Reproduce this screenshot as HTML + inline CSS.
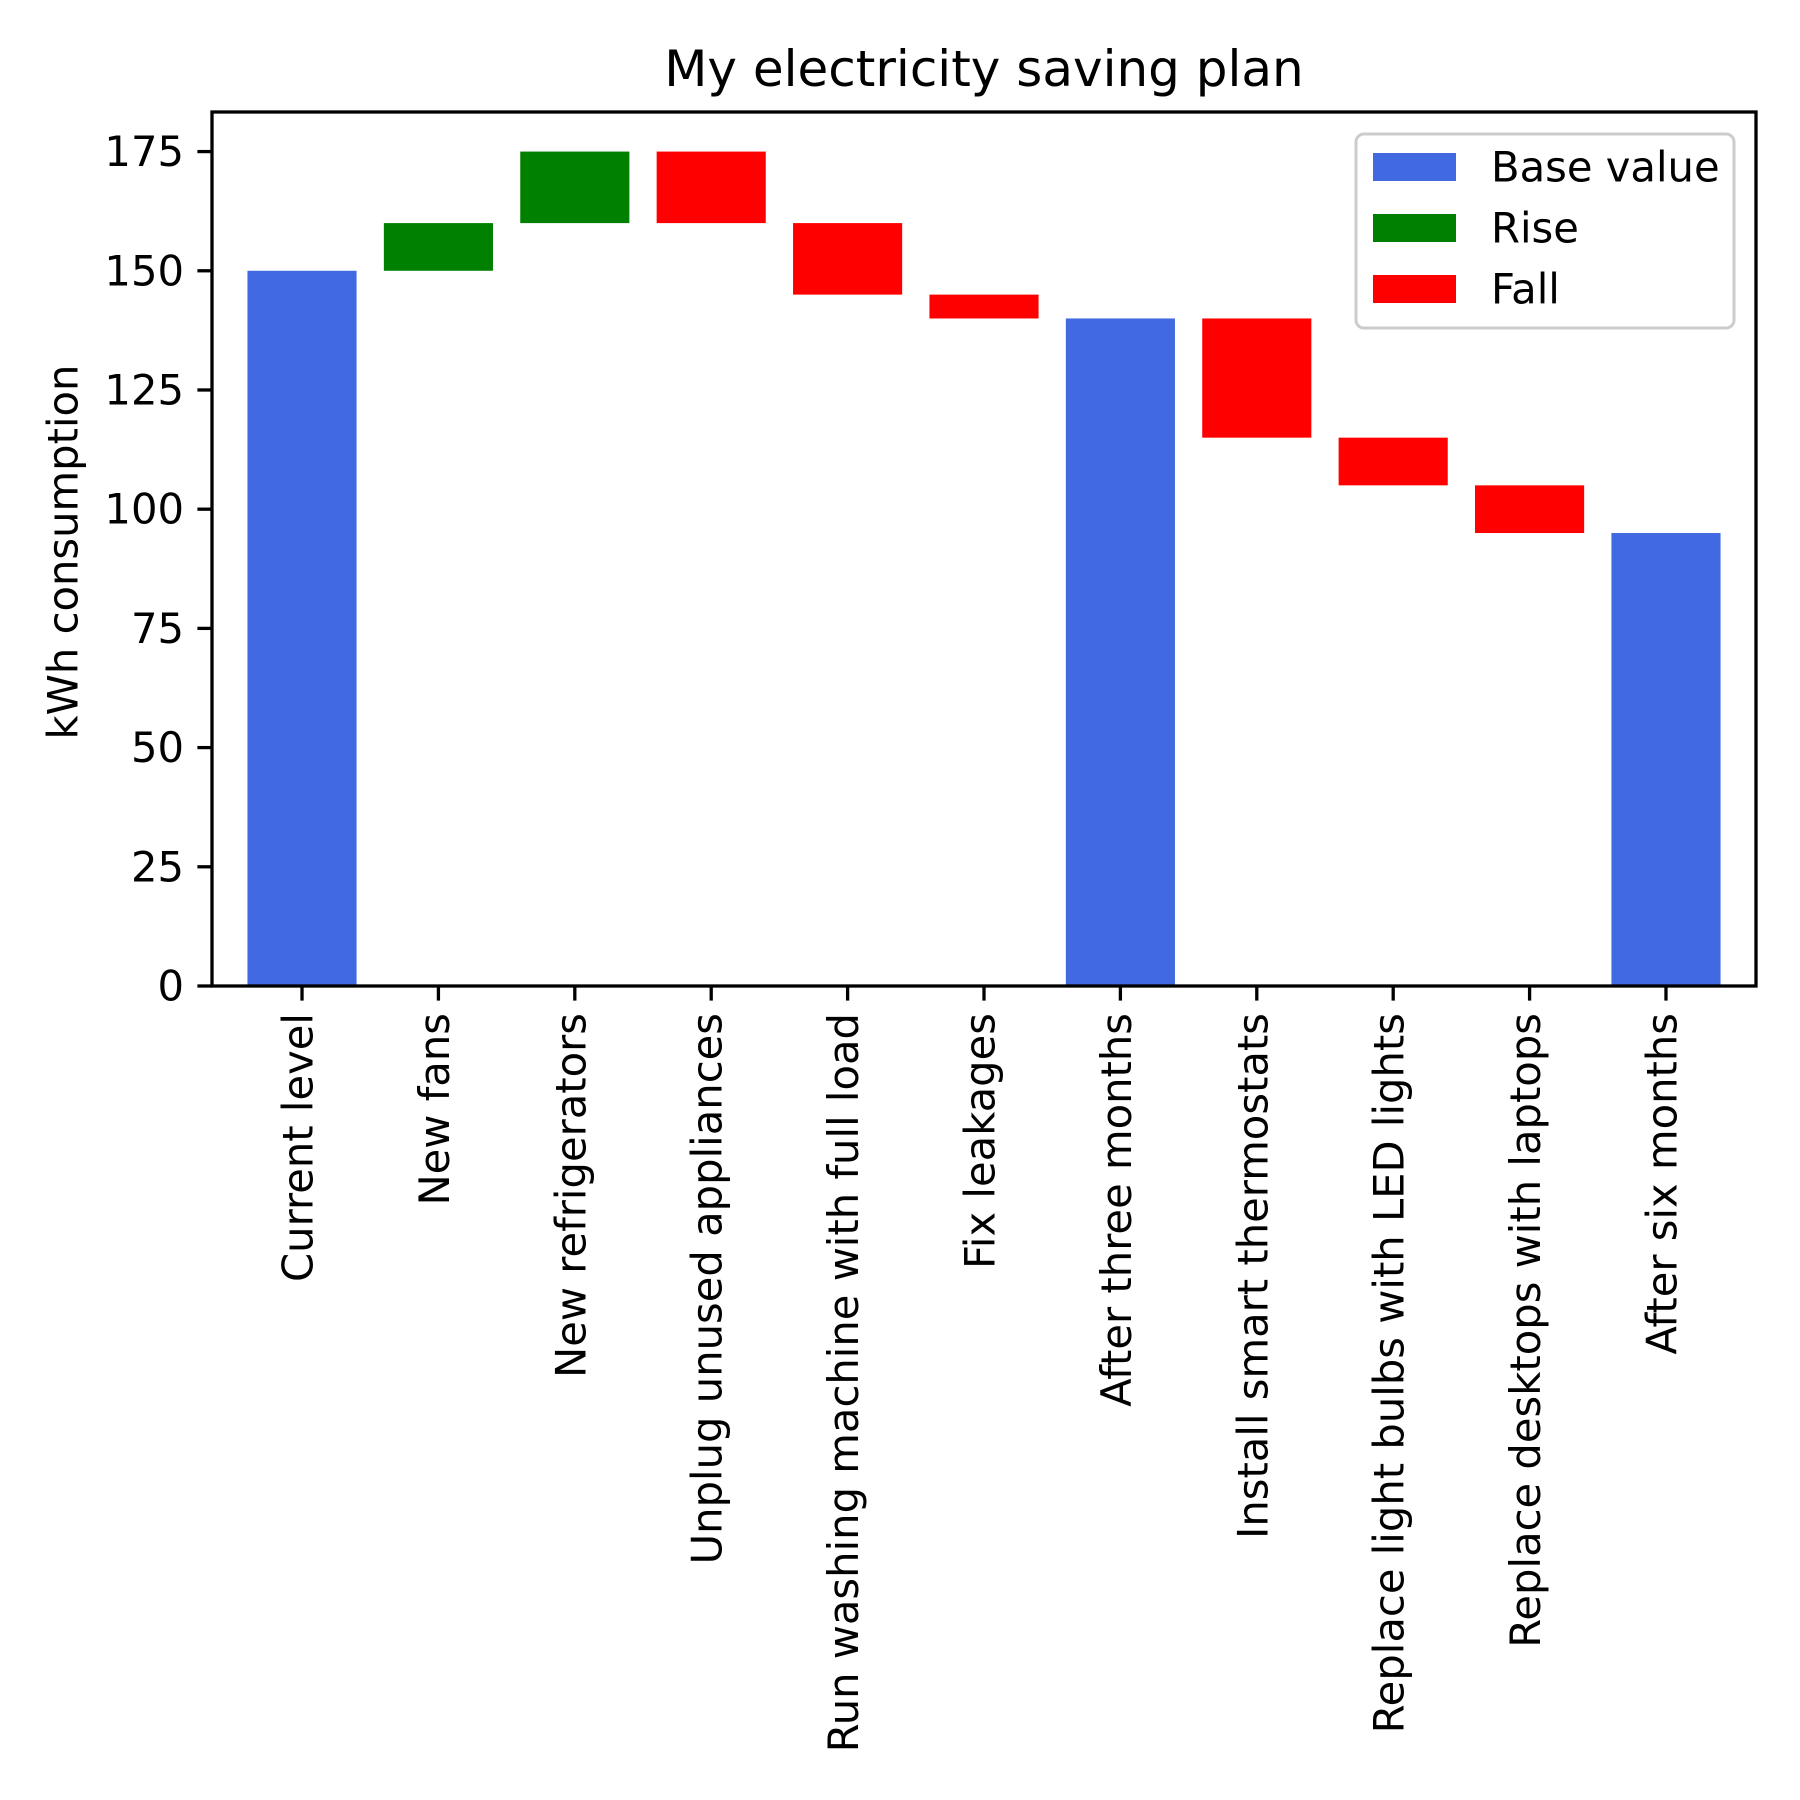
<!DOCTYPE html>
<html><head><meta charset="utf-8"><style>html,body{margin:0;padding:0;background:#fff}svg{display:block}</style></head>
<body>
<svg id="chart" width="1800" height="1800" xmlns="http://www.w3.org/2000/svg" font-family="'DejaVu Sans','Liberation Sans',sans-serif"></svg>
<script>
const categories = ["Current level","New fans","New refrigerators","Unplug unused appliances","Run washing machine with full load","Fix leakages","After three months","Install smart thermostats","Replace light bulbs with LED lights","Replace desktops with laptops","After six months"];
const barTypes = ["base","rise","rise","fall","fall","fall","base","fall","fall","fall","base"];
const changes = [150,10,15,15,15,5,140,25,10,10,95];
const yTicks = [0,25,50,75,100,125,150,175];

const NS="http://www.w3.org/2000/svg";
const svg=document.getElementById('chart');
const L=212,R=1756,T=112,B=986;
const xMin=-0.66,xMax=10.66,yMin=0,yMax=183.3;
const xs=v=>L+(v-xMin)/(xMax-xMin)*(R-L);
const ys=v=>B-(v-yMin)/(yMax-yMin)*(B-T);
const colors={base:"#4169E1",rise:"#008000",fall:"#FF0000"};
function mk(tag,attrs,parent){const e=document.createElementNS(NS,tag);for(const k in attrs)e.setAttribute(k,attrs[k]);(parent||svg).appendChild(e);return e;}

let level=0;
categories.forEach((c,i)=>{
  let lo,hi;const t=barTypes[i],v=changes[i];
  if(t==="base"){lo=0;hi=v;level=v;}
  else if(t==="rise"){lo=level;hi=level+v;level=hi;}
  else {hi=level;lo=level-v;level=lo;}
  const w=0.8;
  const r=mk('rect',{x:xs(i-w/2),y:ys(hi),width:xs(i+w/2)-xs(i-w/2),height:ys(lo)-ys(hi),fill:colors[t]});
  
  
  const tk=mk('line',{x1:xs(i),x2:xs(i),y1:B,y2:B+14.6,stroke:"#000","stroke-width":3.3});
  
  
  const tx=mk('text',{x:0,y:0,"font-size":41.7,"text-anchor":"end","dominant-baseline":"central",transform:`translate(${xs(i)-4},${B+27}) rotate(-90)`});
  tx.textContent=c;
  
  
});
yTicks.forEach(v=>{
  const tk=mk('line',{x1:L-14.6,x2:L,y1:ys(v),y2:ys(v),stroke:"#000","stroke-width":3.3});
  
  
  const tx=mk('text',{x:L-28,y:ys(v),"font-size":41.7,"text-anchor":"end","dominant-baseline":"central"});
  tx.textContent=v;
  
  
});
const frame=mk('rect',{x:L,y:T,width:R-L,height:B-T,fill:"none",stroke:"#000","stroke-width":3.3});


const title=mk('text',{x:(L+R)/2,y:86,"font-size":50,"text-anchor":"middle"});
title.textContent="My electricity saving plan";


const yl=mk('text',{x:0,y:0,"font-size":41.7,"text-anchor":"middle","dominant-baseline":"central",transform:`translate(63,${(T+B)/2+3}) rotate(-90)`});
yl.textContent="kWh consumption";



const lg=mk('g',{});


mk('rect',{x:1356,y:134,width:378,height:194,rx:8,fill:"#fff",stroke:"#ccc","stroke-width":3},lg);
const legendLabels=["Base value","Rise","Fall"];
const legendKeys=["base","rise","fall"];
legendLabels.forEach((lab,i)=>{
  const cy=167+i*61;
  const p=mk('rect',{x:1373,y:cy-14,width:83,height:28,fill:colors[legendKeys[i]]},lg);
  
  
  const t=mk('text',{x:1491,y:cy,"font-size":41.7,"dominant-baseline":"central"},lg);
  t.textContent=lab;
  
  
});
</script>
</body></html>
